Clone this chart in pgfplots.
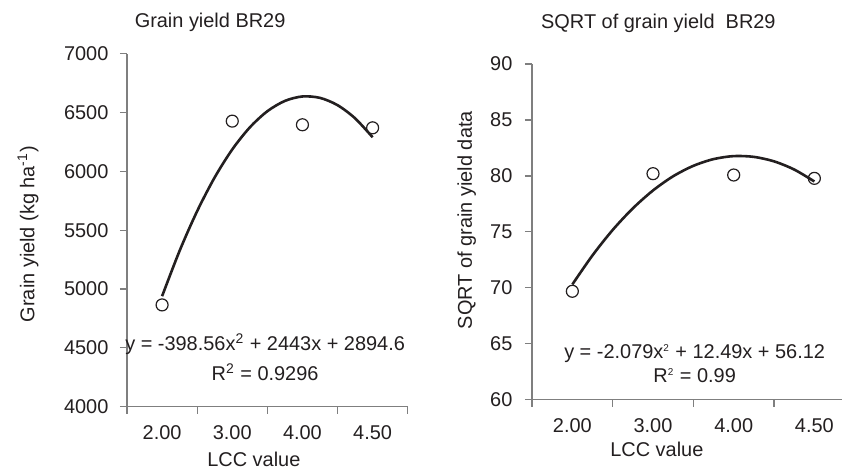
\documentclass[border=0pt]{standalone}
\usepackage{pgfplots}
\pgfplotsset{compat=1.18}
\usepackage{fontspec}
\setmainfont{Liberation Sans}
\definecolor{txt}{HTML}{231F20}
\definecolor{axgray}{HTML}{7F7F7F}
\pgfplotsset{
  myax/.style={
    scale only axis, axis lines=left,
    axis line style={-, axgray, line width=0.6bp},
    xmin=0.5, clip=false,
    tick align=outside,
    tick style={axgray, line width=0.6bp},
    major tick length=3.6bp,
    xtick={0.5,1.5,2.5,3.5,4.5}, xticklabels={},
    extra x ticks={1,2,3,4},
    extra x tick labels={2.00,3.00,4.00,4.50},
    extra x tick style={major tick length=0pt, xticklabel style={yshift=-6bp}},
    ticklabel style={font=\fontsize{10}{12}\selectfont, text=txt},
    yticklabel style={xshift=-2.2bp},
    /pgf/number format/assume math mode=true,
    /pgf/number format/1000 sep={},
    scaled y ticks=false,
    label style={font=\fontsize{10}{12}\selectfont, text=txt},
    title style={font=\fontsize{10}{12}\selectfont, text=txt, yshift=-6pt},
  },
  curve/.style={no marks, line width=1.3bp, txt, smooth},
  pts/.style={only marks, mark=o, mark size=3bp, mark options={line width=0.6bp, txt, fill=white, draw=txt}},
}
\begin{document}
\begin{tikzpicture}
\useasboundingbox (0,0) rectangle (421bp,234bp);
% Left panel
\begin{axis}[myax,
  at={(63.5bp,30.65bp)}, anchor=south west,
  width=140.35bp, height=176.5bp,
  xmax=4.5, ymin=4000, ymax=7000,
  ytick={4000,4500,5000,5500,6000,6500,7000},
  title={Grain yield BR29},
  title style={at={(axis description cs:0.296,1.090)}, anchor=center},
  xlabel={LCC value},
  xlabel style={at={(axis description cs:0.452,-0.148)}, anchor=center},
  ylabel={Grain yield (kg ha\textsuperscript{-1})},
  ylabel style={at={(axis description cs:-0.353,0.489)}, anchor=center, rotate=0},
]
\addplot[curve] coordinates {
 (1,4939.0) (1.25,5325.6) (1.5,5662.3) (1.75,5949.3) (2,6186.4)
 (2.25,6373.6) (2.5,6511.1) (2.75,6598.7) (3,6636.6) (3.25,6624.6)
 (3.5,6562.7) (3.75,6451.1) (4,6289.6)};
\addplot[pts] coordinates {(1,4865) (2,6427) (3,6396) (4,6370)};
\node[font=\fontsize{10}{12}\selectfont, text=txt] at (axis description cs:0.492,0.178) {y = -398.56x\textsuperscript{2} + 2443x + 2894.6};
\node[font=\fontsize{10}{12}\selectfont, text=txt] at (axis description cs:0.492,0.097) {R\textsuperscript{2} = 0.9296};
\end{axis}
% Right panel
\begin{axis}[myax,
  at={(266bp,34.15bp)}, anchor=south west,
  width=154.9bp, height=167.85bp,
  xmax=4.34, ymin=60, ymax=90,
  ytick={60,65,70,75,80,85,90},
  yticklabel style={xshift=-0.5bp},
  title={SQRT of grain yield\ \ BR29},
  title style={at={(axis description cs:0.408,1.121)}, anchor=center},
  xlabel={LCC value},
  xlabel style={at={(axis description cs:0.403,-0.147)}, anchor=center},
  ylabel={SQRT of grain yield data},
  ylabel style={at={(axis description cs:-0.211,0.535)}, anchor=center, rotate=0},
]
\addplot[curve] coordinates {
 (1,70.30) (1.25,72.90) (1.5,75.17) (1.75,77.10) (2,78.70)
 (2.25,79.97) (2.5,80.90) (2.75,81.50) (3,81.77) (3.25,81.70)
 (3.5,81.30) (3.75,80.57) (4,79.50)};
\addplot[pts] coordinates {(1,69.69) (2,80.2) (3,80.08) (4,79.78)};
\node[font=\fontsize{10}{12}\selectfont, text=txt] at (axis description cs:0.525,0.138) {y = -2.079x\textsuperscript{\tiny 2} + 12.49x + 56.12};
\node[font=\fontsize{10}{12}\selectfont, text=txt] at (axis description cs:0.525,0.0715) {R\textsuperscript{\tiny 2} = 0.99};
\end{axis}
\end{tikzpicture}
\end{document}
